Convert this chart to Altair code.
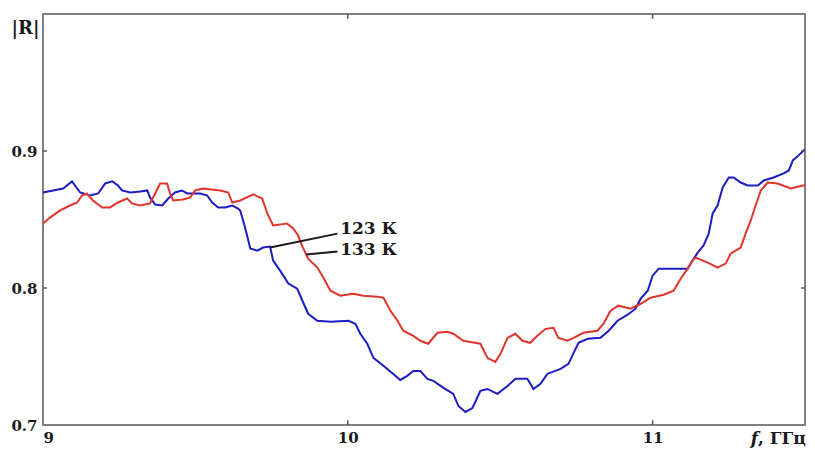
import altair as alt
import pandas as pd

# 123 K (blue)
f_123 = [9.000, 9.066, 9.095, 9.122, 9.154, 9.181, 9.204, 9.227, 9.246, 9.259,
         9.286, 9.319, 9.342, 9.351, 9.368, 9.391, 9.411, 9.433, 9.456, 9.473,
         9.516, 9.539, 9.555, 9.575, 9.598, 9.621, 9.640, 9.647, 9.663, 9.680,
         9.703, 9.722, 9.745, 9.755, 9.778, 9.805, 9.834, 9.851, 9.870, 9.900,
         9.943, 10.002, 10.025, 10.041, 10.064, 10.084, 10.117, 10.149, 10.172, 10.195,
         10.215, 10.238, 10.261, 10.281, 10.314, 10.346, 10.363, 10.386, 10.409, 10.435,
         10.458, 10.491, 10.524, 10.550, 10.589, 10.609, 10.632, 10.655, 10.698, 10.724,
         10.741, 10.757, 10.787, 10.829, 10.856, 10.885, 10.918, 10.944, 10.961, 10.984,
         11.000, 11.020, 11.069, 11.115, 11.131, 11.148, 11.167, 11.184, 11.197, 11.213,
         11.230, 11.250, 11.266, 11.289, 11.312, 11.345, 11.365, 11.397, 11.430, 11.447,
         11.460, 11.479, 11.496, 11.500]
r_123 = [0.8697, 0.8726, 0.8778, 0.8697, 0.8675, 0.8690, 0.8763, 0.8778, 0.8748, 0.8712,
         0.8697, 0.8705, 0.8712, 0.8661, 0.8609, 0.8602, 0.8653, 0.8697, 0.8712, 0.8690,
         0.8690, 0.8675, 0.8624, 0.8588, 0.8588, 0.8602, 0.8580, 0.8566, 0.8441, 0.8288,
         0.8273, 0.8295, 0.8302, 0.8200, 0.8127, 0.8032, 0.7995, 0.7907, 0.7812, 0.7761,
         0.7753, 0.7761, 0.7739, 0.7666, 0.7593, 0.7490, 0.7432, 0.7373, 0.7329, 0.7359,
         0.7395, 0.7395, 0.7337, 0.7322, 0.7271, 0.7227, 0.7139, 0.7095, 0.7124, 0.7249,
         0.7263, 0.7227, 0.7285, 0.7337, 0.7337, 0.7263, 0.7300, 0.7373, 0.7410, 0.7446,
         0.7527, 0.7600, 0.7629, 0.7636, 0.7688, 0.7761, 0.7805, 0.7849, 0.7922, 0.7980,
         0.8090, 0.8141, 0.8141, 0.8141, 0.8200, 0.8258, 0.8310, 0.8397, 0.8544, 0.8602,
         0.8734, 0.8807, 0.8807, 0.8770, 0.8748, 0.8748, 0.8785, 0.8807, 0.8836, 0.8858,
         0.8931, 0.8968, 0.9005, 0.9005]

# 133 K (red)
f_133 = [9.000, 9.023, 9.056, 9.089, 9.112, 9.128, 9.144, 9.164, 9.194, 9.220,
         9.246, 9.276, 9.292, 9.319, 9.351, 9.368, 9.384, 9.407, 9.417, 9.427,
         9.460, 9.483, 9.499, 9.525, 9.581, 9.608, 9.621, 9.647, 9.690, 9.719,
         9.736, 9.755, 9.801, 9.821, 9.837, 9.851, 9.870, 9.900, 9.920, 9.943,
         9.975, 10.018, 10.051, 10.097, 10.117, 10.140, 10.163, 10.182, 10.215, 10.238,
         10.264, 10.294, 10.327, 10.346, 10.379, 10.435, 10.458, 10.484, 10.501, 10.524,
         10.550, 10.573, 10.599, 10.622, 10.649, 10.675, 10.691, 10.721, 10.741, 10.773,
         10.819, 10.839, 10.862, 10.888, 10.928, 10.961, 10.993, 11.036, 11.069, 11.092,
         11.115, 11.131, 11.141, 11.181, 11.213, 11.240, 11.256, 11.289, 11.305, 11.322,
         11.338, 11.355, 11.378, 11.410, 11.453, 11.493, 11.500]
r_133 = [0.8470, 0.8514, 0.8566, 0.8602, 0.8624, 0.8675, 0.8690, 0.8639, 0.8588, 0.8588,
         0.8624, 0.8653, 0.8617, 0.8602, 0.8617, 0.8690, 0.8763, 0.8763, 0.8690, 0.8639,
         0.8646, 0.8661, 0.8712, 0.8726, 0.8712, 0.8697, 0.8624, 0.8639, 0.8683, 0.8653,
         0.8544, 0.8456, 0.8470, 0.8434, 0.8383, 0.8302, 0.8214, 0.8149, 0.8075, 0.7980,
         0.7944, 0.7958, 0.7944, 0.7937, 0.7929, 0.7834, 0.7761, 0.7688, 0.7651, 0.7615,
         0.7593, 0.7673, 0.7680, 0.7666, 0.7615, 0.7593, 0.7490, 0.7461, 0.7519, 0.7636,
         0.7666, 0.7615, 0.7600, 0.7651, 0.7702, 0.7710, 0.7636, 0.7615, 0.7636, 0.7673,
         0.7688, 0.7739, 0.7834, 0.7871, 0.7849, 0.7885, 0.7929, 0.7951, 0.7980, 0.8068,
         0.8141, 0.8200, 0.8222, 0.8185, 0.8149, 0.8178, 0.8251, 0.8295, 0.8397, 0.8493,
         0.8602, 0.8712, 0.8770, 0.8763, 0.8726, 0.8748, 0.8748]

series_names = ["123 К", "133 К"]
series_colors = ["#1c1cc4", "#e0342c"]

x_ticks = [9, 10, 11]
y_ticks = [0.7, 0.8, 0.9]
x_domain = [9, 11.5]
y_domain = [0.7, 1.0]

# annotation labels with leader lines
label_text = ["123 К", "133 К"]
label_f = [9.975, 9.975]
label_r = [0.8397, 0.8238]
leader_f1 = [9.745, 9.864]
leader_r1 = [0.8295, 0.8244]
leader_f2 = [9.966, 9.966]
leader_r2 = [0.8397, 0.8266]

SERIF = "DejaVu Serif"
INK = "#1a1a1a"

rows = []
for i, (f, r) in enumerate(zip(f_123, r_123)):
    rows.append({"f": f, "R": r, "series": series_names[0], "i": i})
for i, (f, r) in enumerate(zip(f_133, r_133)):
    rows.append({"f": f, "R": r, "series": series_names[1], "i": i})
df = pd.DataFrame(rows)

xs = alt.Scale(domain=x_domain, nice=False, zero=False)
ys = alt.Scale(domain=y_domain, nice=False, zero=False)

x_axis = alt.Axis(values=x_ticks, format="d", ticks=False, domain=False, grid=False,
                  labelFont=SERIF, labelFontWeight="bold", labelFontSize=15,
                  labelColor=INK, labelPadding=5, labelFlush=True, title=None)
y_axis = alt.Axis(values=y_ticks, format=".1f", ticks=False, domain=False, grid=False,
                  labelFont=SERIF, labelFontWeight="bold", labelFontSize=15,
                  labelColor=INK, labelPadding=6,
                  title="|R|", titleAngle=0, titleX=-4, titleY=14,
                  titleAlign="right", titleBaseline="middle",
                  titleFont=SERIF, titleFontWeight="bold", titleFontSize=18,
                  titleColor=INK)

lines = alt.Chart(df).mark_line(strokeWidth=2).encode(
    x=alt.X("f:Q", scale=xs, axis=x_axis),
    y=alt.Y("R:Q", scale=ys, axis=y_axis),
    color=alt.Color("series:N", scale=alt.Scale(domain=series_names, range=series_colors), legend=None),
    order="i:Q",
)

# inward tick marks
xt = pd.DataFrame({"f": [10, 11]})
bottom_ticks = alt.Chart(xt).mark_rule(color="#555555", strokeWidth=1.5).encode(
    x=alt.X("f:Q", scale=xs), y=alt.datum(0.7), y2=alt.datum(0.7035))
top_ticks = alt.Chart(xt).mark_rule(color="#555555", strokeWidth=1.5).encode(
    x=alt.X("f:Q", scale=xs), y=alt.datum(1.0), y2=alt.datum(0.9965))
yt = pd.DataFrame({"R": [0.8, 0.9]})
left_ticks = alt.Chart(yt).mark_rule(color="#555555", strokeWidth=1.5).encode(
    y=alt.Y("R:Q", scale=ys), x=alt.datum(9.0), x2=alt.datum(9.013))
right_ticks = alt.Chart(yt).mark_rule(color="#555555", strokeWidth=1.5).encode(
    y=alt.Y("R:Q", scale=ys), x=alt.datum(11.5), x2=alt.datum(11.487))

ann = pd.DataFrame({"text": label_text, "f": label_f, "R": label_r,
                    "f1": leader_f1, "r1": leader_r1, "f2": leader_f2, "r2": leader_r2})
leaders = alt.Chart(ann).mark_rule(color=INK, strokeWidth=2).encode(
    x=alt.X("f1:Q", scale=xs), y=alt.Y("r1:Q", scale=ys), x2="f2:Q", y2="r2:Q")
labels = alt.Chart(ann).mark_text(align="left", baseline="alphabetic", font=SERIF,
                                  fontWeight="bold", fontSize=17, color=INK).encode(
    x=alt.X("f:Q", scale=xs), y=alt.Y("R:Q", scale=ys), text="text:N")

title_f = alt.Chart(pd.DataFrame({"t": ["f"]})).mark_text(
    align="right", baseline="alphabetic", font=SERIF, fontWeight="bold", fontStyle="italic",
    fontSize=17, color=INK).encode(x=alt.value(715), y=alt.value(430), text="t:N")
title_unit = alt.Chart(pd.DataFrame({"t": [", ГГц"]})).mark_text(
    align="left", baseline="alphabetic", font=SERIF, fontWeight="bold",
    fontSize=17, color=INK).encode(x=alt.value(715), y=alt.value(430), text="t:N")

chart = alt.layer(lines, bottom_ticks, top_ticks, left_ticks, right_ticks,
                  leaders, labels, title_f, title_unit).properties(
    width=762, height=411,
    autosize=alt.AutoSizeParams(type="none"),
    padding={"left": 35, "top": 6, "right": 2, "bottom": 27},
).configure(background="white").configure_view(stroke="#808080", strokeWidth=2)

chart.save("out.html", embed_options={"renderer": "svg", "actions": False})
